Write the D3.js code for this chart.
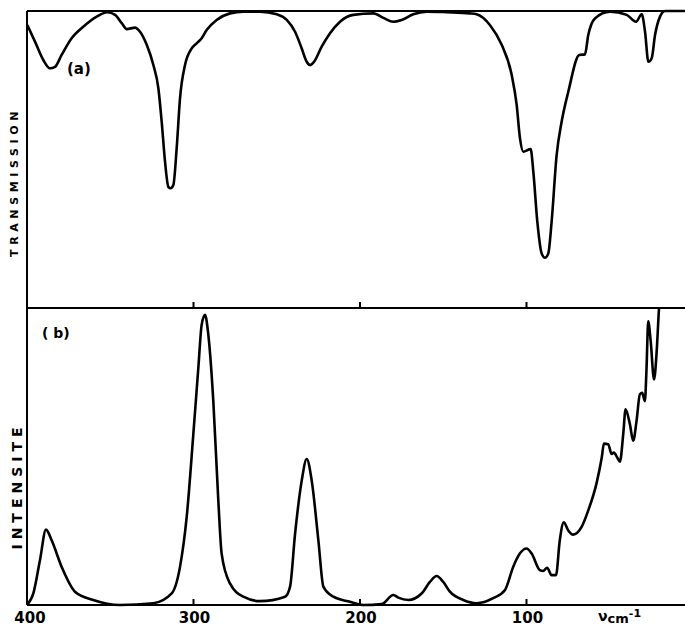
<!DOCTYPE html>
<html lang="fr">
  <head>
    <meta charset="UTF-8">
    <title>Spectres IR / Raman</title>
    <style>
      html,body{
        background-color: #fff;
        margin: 0;
        padding: 0;
      }
      text{ font-family: "DejaVu Sans", sans-serif; fill: #000; }
    </style>
  </head>
  <body>
    <div id="chart"></div>
    <script src="https://d3js.org/d3.v7.min.js"></script>
    <script>
      // (a) transmission : nombre d'onde (cm-1) et transmission (%)
      var waveA = [399.8, 395.2, 390.2, 386.2, 383.2, 379.2, 373.2, 366.2, 358.1, 351.8,
        347.1, 343.1, 340.1, 335.1, 332.1, 328.1, 324.1, 321.1, 319.1, 317.1,
        315.1, 313.7, 312.1, 310.1, 308.1, 305.1, 301.1, 298.1, 295.1, 292.1,
        286.1, 278.1, 270.1, 260.1, 250.0, 244.0, 239.0, 235.0, 232.0, 230.0,
        227.6, 223.0, 218.0, 212.0, 204.0, 192.0, 186.0, 180.0, 175.0, 168.0,
        160.0, 148.0, 134.0, 130.0, 122.0, 114.9, 108.9, 105.9, 103.9, 101.9,
        97.5, 95.9, 93.5, 90.9, 88.9, 86.9, 84.9, 81.9, 78.9, 74.9,
        68.3, 64.9, 62.9, 58.9, 49.8, 39.8, 34.2, 30.8, 28.8, 26.8,
        24.8, 22.8, 19.8, 16.8, 5];
      var transA = [95.3, 89.7, 83.5, 80.7, 81.2, 85.2, 90.8, 94.7, 98.1, 99.6,
        98.7, 95.9, 93.9, 94.4, 93.0, 88.6, 81.8, 74.0, 62.7, 49.3,
        40.8, 40.3, 41.4, 53.8, 70.6, 81.8, 87.4, 89.1, 90.8, 93.6,
        97.0, 99.2, 99.8, 99.8, 98.9, 97.0, 93.0, 87.4, 82.9, 81.8,
        82.9, 88.0, 92.5, 96.4, 98.7, 99.2, 97.7, 96.4, 97.0, 98.9,
        99.8, 99.6, 99.2, 98.9, 95.3, 88.6, 78.5, 68.4, 57.1, 52.6,
        53.5, 45.9, 29.1, 18.4, 16.9, 18.4, 29.1, 51.5, 62.7, 72.8,
        85.2, 85.4, 91.9, 97.5, 99.8, 98.7, 96.4, 98.9, 93.0, 82.9,
        84.1, 91.9, 98.1, 100, 100];

      // (b) intensite Raman
      var waveB = [400, 396.2, 392.2, 388.6, 385.2, 379.2, 371.2, 360.2, 344.1, 324.1,
        313.1, 308.1, 304.1, 300.1, 297.1, 295.1, 293.1, 291.1, 288.1, 285.1,
        283.1, 278.1, 270.1, 260.1, 245.0, 242.0, 239.0, 235.0, 232.0, 229.0,
        225.0, 222.0, 216.0, 206.0, 198.0, 187.0, 180.0, 177.0, 171.0, 163.0,
        158.0, 154.0, 150.0, 146.0, 138.0, 130.0, 120.0, 112.9, 108.0, 104.0,
        99.9, 96.9, 92.0, 90.0, 87.6, 84.9, 82.3, 80.0, 77.6, 75.0,
        72.0, 66.9, 62.9, 57.8, 54.8, 53.5, 50.9, 48.9, 47.5, 45.5,
        43.9, 41.9, 40.5, 37.9, 35.9, 33.9, 31.9, 30.5, 28.9, 27.9,
        26.9, 25.4, 23.4, 21.8, 20.4, 18.6];
      var intensB = [0, 3.9, 15.2, 25.5, 21.9, 12.9, 4.5, 1.7, 0, 0.6,
        3.9, 12.9, 29.7, 57.8, 80.2, 94.8, 98.2, 91.5, 69.0, 35.4,
        17.4, 7.3, 2.8, 1.3, 2.8, 6.2, 24.1, 42.1, 49.4, 42.1,
        21.9, 6.2, 2.8, 1.1, 0, 0.3, 3.4, 2.5, 1.7, 3.9,
        7.8, 9.8, 7.8, 4.5, 1.7, 0.6, 2.3, 5.1, 12.9, 17.4,
        19.1, 17.4, 11.8, 11.5, 12.6, 10.1, 10.1, 21.9, 28.0, 25.3,
        23.8, 26.4, 32.0, 41.5, 49.9, 54.6, 54.4, 51.1, 51.6, 49.9,
        48.5, 57.8, 66.2, 61.2, 55.6, 62.3, 71.3, 71.8, 69.0, 80.2,
        96.0, 89.2, 76.3, 85.9, 100.4, 109];

      var xTicks = [400, 300, 200, 100];

      var width = 685, height = 628;
      var left = 27, right = 685;
      var topA = 11, midY = 308, botB = 605;

      var svg = d3.select("#chart").append("svg")
        .attr("width", width)
        .attr("height", height);

      var x = d3.scaleLinear().domain([400, 4.8]).range([left, right]);
      var yA = d3.scaleLinear().domain([0, 100]).range([midY, topA]);
      var yB = d3.scaleLinear().domain([0, 100]).range([botB, midY + 1.5]);

      svg.append("clipPath").attr("id", "clipB")
        .append("rect").attr("x", left).attr("y", midY).attr("width", right - left).attr("height", botB - midY + 2);

      // cadres
      var frame = svg.append("g").attr("stroke", "#000").attr("stroke-width", 2).attr("fill", "none");
      frame.append("line").attr("x1", left).attr("x2", right).attr("y1", topA).attr("y2", topA);
      frame.append("line").attr("x1", left).attr("x2", right).attr("y1", midY).attr("y2", midY);
      frame.append("line").attr("x1", left).attr("x2", right).attr("y1", botB).attr("y2", botB);
      frame.append("line").attr("x1", left).attr("x2", left).attr("y1", topA).attr("y2", botB);

      // graduations
      var ticks = svg.append("g").attr("stroke", "#000").attr("stroke-width", 2);
      xTicks.slice(1).forEach(function(t){
        ticks.append("line").attr("x1", x(t)).attr("x2", x(t)).attr("y1", midY).attr("y2", midY - 6);
        ticks.append("line").attr("x1", x(t)).attr("x2", x(t)).attr("y1", botB).attr("y2", botB - 6);
      });

      svg.append("g").selectAll("text")
        .data(xTicks)
        .enter().append("text")
        .attr("x", function(d){ return x(d) + (d === 400 ? 3 : 1); })
        .attr("y", 623)
        .attr("text-anchor", "middle")
        .attr("font-size", 15)
        .attr("font-weight", "bold")
        .text(function(d){ return d; });

      var unit = svg.append("text").attr("x", 598).attr("y", 621)
        .attr("font-size", 14).attr("font-weight", "bold");
      unit.append("tspan").text("ν");
      unit.append("tspan").attr("dy", 2).attr("font-size", 13).text("cm");
      unit.append("tspan").attr("dy", -6).attr("font-size", 11).text("-1");

      // courbes
      var lineA = d3.line()
        .x(function(d, i){ return x(waveA[i]); })
        .y(function(d){ return yA(d); })
        .curve(d3.curveMonotoneX);
      var lineB = d3.line()
        .x(function(d, i){ return x(waveB[i]); })
        .y(function(d){ return yB(d); })
        .curve(d3.curveMonotoneX);

      svg.append("path").datum(transA)
        .attr("d", lineA)
        .attr("fill", "none").attr("stroke", "#000").attr("stroke-width", 2.6)
        .attr("stroke-linejoin", "round");
      svg.append("path").datum(intensB)
        .attr("d", lineB)
        .attr("clip-path", "url(#clipB)")
        .attr("fill", "none").attr("stroke", "#000").attr("stroke-width", 2.6)
        .attr("stroke-linejoin", "round");

      // etiquettes
      svg.append("text").attr("x", 67).attr("y", 74)
        .attr("font-size", 15).attr("font-weight", "bold").text("(a)");
      svg.append("text").attr("x", 42).attr("y", 338)
        .attr("font-size", 14).attr("font-weight", "bold").text("( b)");

      svg.append("text")
        .attr("transform", "translate(18,182) rotate(-90)")
        .attr("text-anchor", "middle")
        .attr("font-size", 11)
        .attr("font-weight", "bold")
        .attr("letter-spacing", 4.6)
        .text("TRANSMISSION");
      svg.append("text")
        .attr("transform", "translate(22,486) rotate(-90)")
        .attr("text-anchor", "middle")
        .attr("font-size", 14)
        .attr("font-weight", "bold")
        .attr("letter-spacing", 5)
        .text("INTENSITE");
    </script>
  </body>
</html>
